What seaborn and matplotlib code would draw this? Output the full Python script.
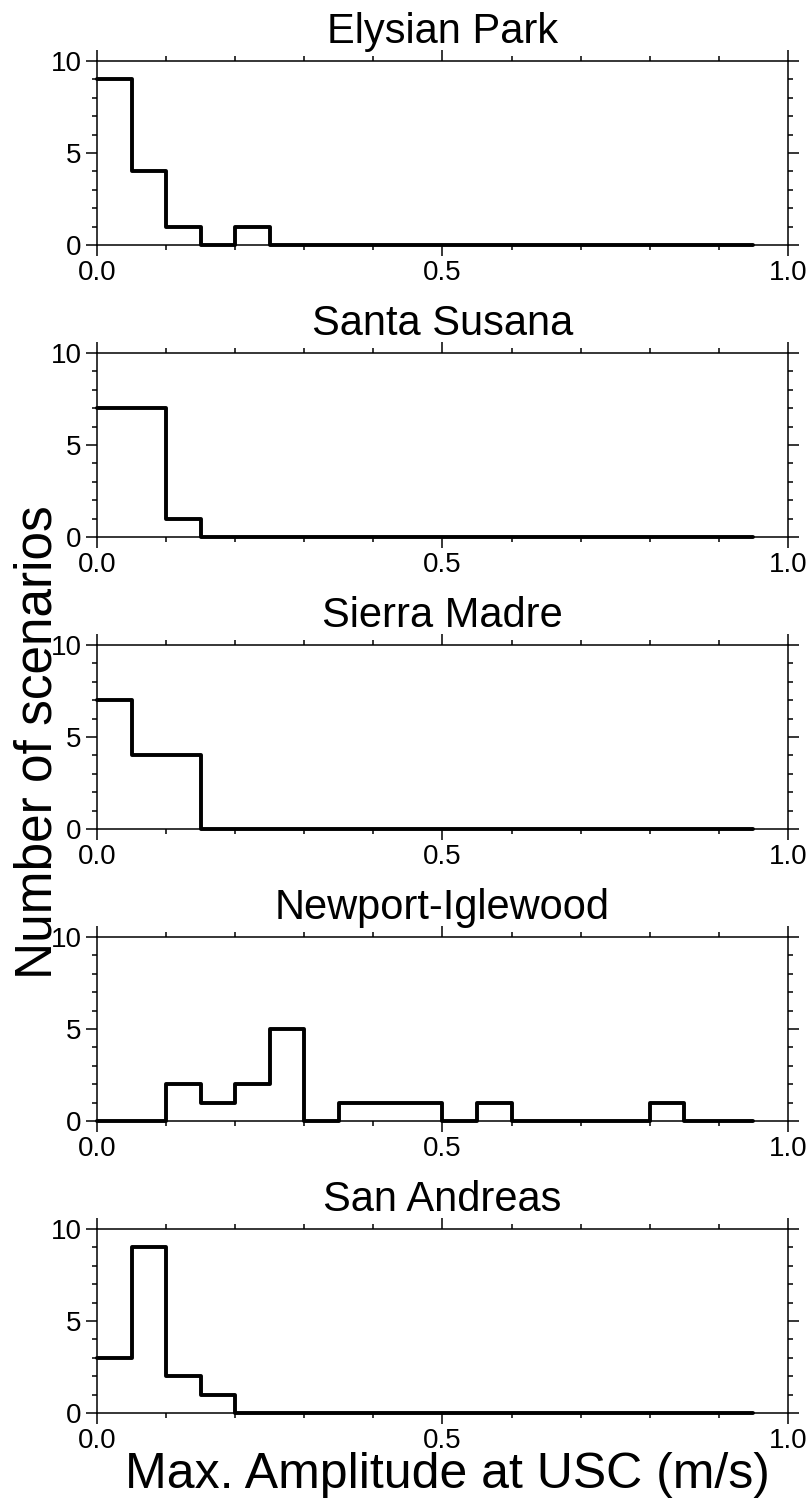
import numpy as np
import pandas as pd
import matplotlib
matplotlib.use("Agg")
import matplotlib.pyplot as plt
from matplotlib.ticker import MultipleLocator, FixedLocator
import seaborn as sns

# histogram counts per 0.05 m/s bin (0.00 - 0.95)
bin_edges = [0.0, 0.05, 0.1, 0.15, 0.2, 0.25, 0.3, 0.35, 0.4, 0.45, 0.5,
             0.55, 0.6, 0.65, 0.7, 0.75, 0.8, 0.85, 0.9, 0.95]
faults = ["Elysian Park", "Santa Susana", "Sierra Madre", "Newport-Iglewood", "San Andreas"]
elysian_park = [9, 4, 1, 0, 1, 0, 0, 0, 0, 0, 0, 0, 0, 0, 0, 0, 0, 0, 0]
santa_susana = [7, 7, 1, 0, 0, 0, 0, 0, 0, 0, 0, 0, 0, 0, 0, 0, 0, 0, 0]
sierra_madre = [7, 4, 4, 0, 0, 0, 0, 0, 0, 0, 0, 0, 0, 0, 0, 0, 0, 0, 0]
newport_iglewood = [0, 0, 2, 1, 2, 5, 0, 1, 1, 1, 0, 1, 0, 0, 0, 0, 1, 0, 0]
san_andreas = [3, 9, 2, 1, 0, 0, 0, 0, 0, 0, 0, 0, 0, 0, 0, 0, 0, 0, 0]
counts = [elysian_park, santa_susana, sierra_madre, newport_iglewood, san_andreas]

x_ticks = [0.0, 0.5, 1.0]
x_ticklabels = ["0.0", "0.5", "1.0"]
y_ticks = [0, 5, 10]

sns.set_style("ticks")
plt.rcParams['font.family'] = ['Liberation Sans', 'DejaVu Sans']
plt.rcParams['text.color'] = 'black'
plt.rcParams['xtick.color'] = 'black'
plt.rcParams['ytick.color'] = 'black'

W, H = 812, 1498
fig = plt.figure(figsize=(W / 100, H / 100), dpi=100)

edges = np.array(bin_edges)
centers = (edges[:-1] + edges[1:]) / 2

for i, (name, c) in enumerate(zip(faults, counts)):
    top = 61 + i * 292
    ax = fig.add_axes([97 / W, 1 - (top + 184) / H, 691 / W, 184 / H])
    df = pd.DataFrame({"amp": centers, "n": c})
    sns.histplot(data=df, x="amp", weights="n", bins=bin_edges, element="step",
                 fill=False, color="black", linewidth=2.8, clip_on=False, ax=ax)
    ax.set_xlim(0, 1)
    ax.set_ylim(0, 10)
    ax.xaxis.set_major_locator(FixedLocator(x_ticks))
    ax.set_xticklabels(x_ticklabels)
    ax.xaxis.set_minor_locator(MultipleLocator(0.1))
    ax.yaxis.set_major_locator(FixedLocator(y_ticks))
    ax.yaxis.set_minor_locator(MultipleLocator(1))
    ax.tick_params(which="both", direction="out", top=True, right=True,
                   labeltop=False, labelright=False, color="black",
                   labelcolor="black", width=1.1)
    ax.tick_params(which="major", length=8, labelsize=20, pad=3)
    ax.tick_params(which="minor", length=3.6)
    for s in ax.spines.values():
        s.set_linewidth(1.1)
        s.set_color("black")
    ax.set_xlabel("")
    ax.set_ylabel("")
    ax.set_title(name, fontsize=30, y=1.0, pad=13, color="black")

fig.text(52 / W, 1 - 742 / H, "Number of scenarios", rotation=90,
         rotation_mode="anchor", ha="center", va="baseline", fontsize=37,
         color="black")
fig.text(447 / W, 1 - 1488 / H, "Max. Amplitude at USC (m/s)",
         ha="center", va="baseline", fontsize=36, color="black")

fig.savefig("out.png", dpi=100)
